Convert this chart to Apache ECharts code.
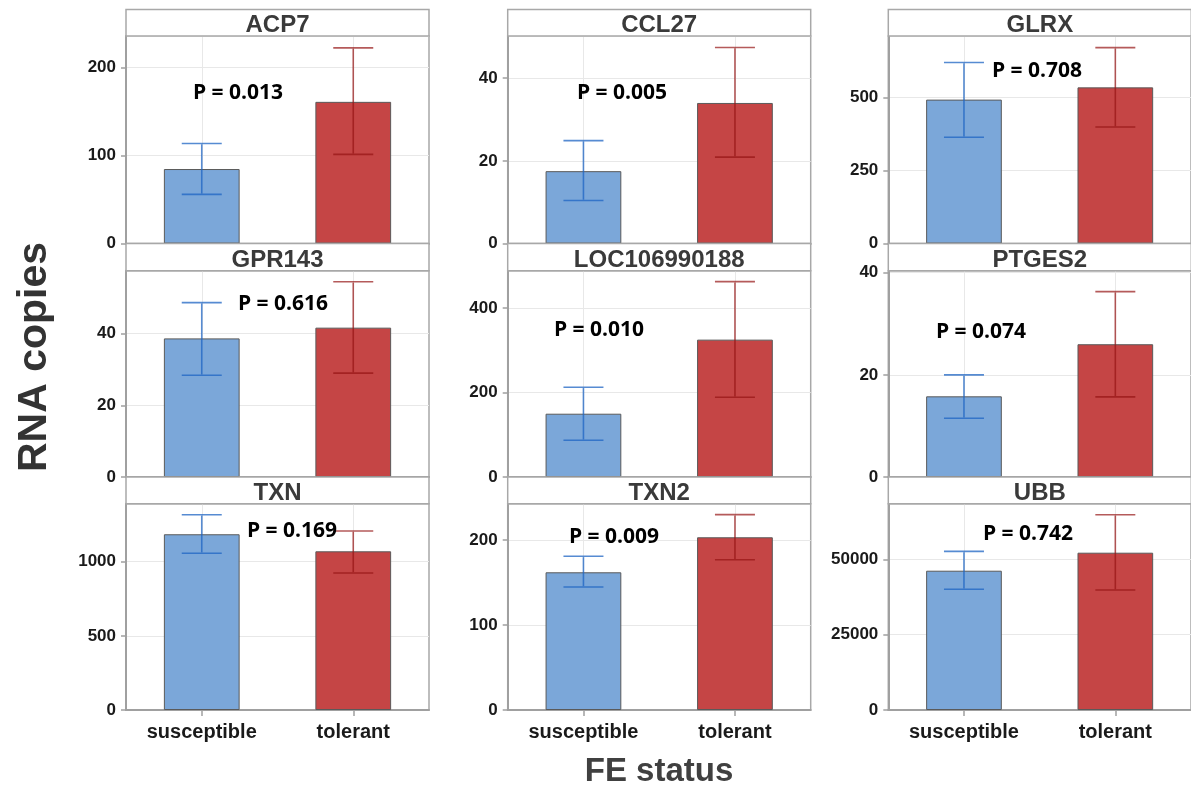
<!DOCTYPE html>
<html>
<head>
<meta charset="utf-8">
<script src="https://cdn.jsdelivr.net/npm/echarts@6/dist/echarts.min.js"></script>
<style>
html,body{margin:0;padding:0;background:#fff;}
#chart{width:1191px;height:791px;}
</style>
</head>
<body>
<div id="chart"></div>
<script>
// ---------------- data ----------------
const genes = ['ACP7', 'CCL27', 'GLRX', 'GPR143', 'LOC106990188', 'PTGES2', 'TXN', 'TXN2', 'UBB'];
const groups = ['susceptible', 'tolerant'];
const suscMean = [84.7, 17.5, 493, 38.7, 150, 15.8, 1185, 162, 46230];
const suscLow  = [55.9, 10.4, 364, 28.4, 87, 11.5, 1057, 144.7, 40060];
const suscHigh = [113.8, 24.9, 620, 48.7, 212.7, 20.0, 1317, 180.8, 52660];
const tolMean  = [161.1, 34.0, 535, 41.7, 325.6, 26.0, 1070, 203.2, 52210];
const tolLow   = [101.4, 20.9, 399, 29.0, 189, 15.7, 924, 176.8, 39830];
const tolHigh  = [222.5, 47.4, 671, 54.5, 463, 36.3, 1207, 229.8, 64820];
const pLabels  = ['P = 0.013', 'P = 0.005', 'P = 0.708', 'P = 0.616', 'P = 0.010', 'P = 0.074', 'P = 0.169', 'P = 0.009', 'P = 0.742'];
const yMax      = [236, 50.2, 711, 57.6, 489, 40.4, 1391, 242.7, 68470];
const yInterval = [100, 20, 250, 20, 200, 20, 500, 100, 25000];
const xTitle = 'FE status';
const yTitle = 'RNA copies';

// ---------------- layout ----------------
const colLeft = [126, 507.7, 888.3];
const panelW = 303;
const stripTop = [9.5, 243.5, 477];
const plotTop = [36, 270.7, 503.7];
const plotBottom = [243.5, 477, 710];
const pPos = [[238, 93], [622, 93], [1037, 71], [283, 304], [599, 330], [981, 332], [292, 531], [614, 537], [1028, 534]];

const blueFill = '#7ba7d9', redFill = '#c54545';
const blueErr = 'rgba(30,100,195,0.75)', redErr = 'rgba(150,20,20,0.7)';
const panelBorder = '#a8a8a8';

const grids = [], xAxes = [], yAxes = [], series = [], graphics = [];

genes.forEach((g, i) => {
  const r = Math.floor(i / 3), c = i % 3;
  const top = plotTop[r], h = plotBottom[r] - plotTop[r];
  grids.push({left: colLeft[c], top: top, width: panelW, height: h, show: true,
    borderColor: panelBorder, borderWidth: 1.5, backgroundColor: '#fff', containLabel: false});
  const isBottom = r === 2;
  xAxes.push({type: 'category', gridIndex: i, data: groups, boundaryGap: true,
    axisLine: {show: true, lineStyle: {color: '#a0a0a0', width: 2}},
    axisTick: {show: isBottom, alignWithLabel: true, length: 6, lineStyle: {color: '#a0a0a0', width: 1.5}},
    axisLabel: {show: isBottom, color: '#1a1a1a', fontFamily: 'Liberation Sans', fontWeight: 'bold', fontSize: 20, margin: 12},
    splitLine: {show: true, alignWithLabel: true, lineStyle: {color: '#e8e8e8', width: 1}}
  });
  const iv = yInterval[i];
  yAxes.push({type: 'value', gridIndex: i, min: 0, max: yMax[i], interval: iv,
    axisLine: {show: true, lineStyle: {color: '#a0a0a0', width: 2}},
    axisTick: {show: true, length: 5, lineStyle: {color: '#a0a0a0', width: 1.5}},
    axisLabel: {color: '#1a1a1a', fontFamily: 'Liberation Sans', fontWeight: 'bold', fontSize: 17, margin: 10,
      showMaxLabel: false,
      formatter: v => (Math.abs(v / iv - Math.round(v / iv)) < 1e-6 ? String(v) : '')},
    splitLine: {show: true, lineStyle: {color: '#e8e8e8', width: 1}}
  });
  series.push({type: 'bar', xAxisIndex: i, yAxisIndex: i, barWidth: '50%', z: 2,
    data: [
      {value: suscMean[i], itemStyle: {color: blueFill}},
      {value: tolMean[i], itemStyle: {color: redFill}}
    ],
    itemStyle: {borderColor: '#5a5a5a', borderWidth: 1},
    emphasis: {disabled: true}, silent: true
  });
  series.push({type: 'custom', xAxisIndex: i, yAxisIndex: i, z: 3, silent: true,
    encode: {x: 0, y: [1, 2]},
    data: [[0, suscLow[i], suscHigh[i]], [1, tolLow[i], tolHigh[i]]],
    renderItem: (params, api) => {
      const x = api.value(0);
      const lo = api.coord([x, api.value(1)]);
      const hi = api.coord([x, api.value(2)]);
      const hw = 20;
      const color = x === 0 ? blueErr : redErr;
      const st = {stroke: color, lineWidth: 1.6};
      return {type: 'group', children: [
        {type: 'line', shape: {x1: hi[0] - hw, y1: hi[1], x2: hi[0] + hw, y2: hi[1]}, style: st},
        {type: 'line', shape: {x1: hi[0], y1: hi[1] + 0.8, x2: lo[0], y2: lo[1] - 0.8}, style: st},
        {type: 'line', shape: {x1: lo[0] - hw, y1: lo[1], x2: lo[0] + hw, y2: lo[1]}, style: st}
      ]};
    }
  });
  // strip
  graphics.push({type: 'rect', silent: true, z: 10,
    shape: {x: colLeft[c], y: stripTop[r], width: panelW, height: plotTop[r] - stripTop[r]},
    style: {fill: '#fff', stroke: panelBorder, lineWidth: 1.5}});
  graphics.push({type: 'text', silent: true, z: 11,
    x: colLeft[c] + panelW / 2, y: (stripTop[r] + plotTop[r]) / 2 + 3,
    style: {text: g, fill: '#3a3a3a', font: 'bold 24px "Liberation Sans"', align: 'center', verticalAlign: 'middle'}});
  // P value
  graphics.push({type: 'text', silent: true, z: 12,
    x: pPos[i][0], y: pPos[i][1],
    style: {text: pLabels[i], fill: '#000', font: 'bold 21px "Open Sans"', align: 'center', verticalAlign: 'middle'}});
});

graphics.push({type: 'text', silent: true, z: 12, x: 659, y: 772,
  style: {text: xTitle, fill: '#404040', font: 'bold 33px "Liberation Sans"', align: 'center', verticalAlign: 'middle'}});
graphics.push({type: 'text', silent: true, z: 12, x: 35, y: 357, rotation: Math.PI / 2,
  style: {text: yTitle, fill: '#333333', font: 'bold 41px "Liberation Sans"', align: 'center', verticalAlign: 'middle'}});

const chart = echarts.init(document.getElementById('chart'), null, {renderer: 'canvas'});
chart.setOption({
  animation: false,
  backgroundColor: '#ffffff',
  grid: grids,
  xAxis: xAxes,
  yAxis: yAxes,
  series: series,
  graphic: graphics
});
</script>
</body>
</html>
